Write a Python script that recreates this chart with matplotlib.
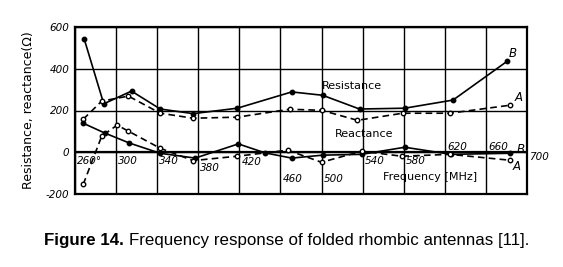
import matplotlib.pyplot as plt
import numpy as np

# data (frequency in MHz, ohms)
f_res_b = [269, 288, 315, 343, 375, 418, 471, 501, 537, 581, 628, 681]
res_b = [542, 232, 293, 207, 185, 211, 289, 273, 207, 211, 250, 437]
f_res_a = [268, 286, 312, 343, 375, 418, 469, 500, 535, 579, 625, 683]
res_a = [158, 245, 269, 187, 163, 168, 206, 201, 153, 187, 187, 225]
f_x_b = [268, 289, 313, 343, 377, 419, 445, 471, 501, 539, 581, 626, 683]
x_b = [139, 92, 44, -5, -28, 40, -3, -28, -14, -10, 24, -10, -5]
f_x_a = [268, 286, 301, 312, 343, 375, 418, 467, 500, 539, 578, 625, 683]
x_a = [-154, 77, 130, 101, 19, -40, -19, 10, -48, 5, -19, -10, -38]

xgrid = np.arange(260, 701, 40)
ygrid = [-200, 0, 200, 400, 600]
xlabels = ['260°', '300', '340', '380', '420', '460', '500', '540', '580', '620', '660', '700']
xlab_y = [-43, -43, -43, -77, -48, -130, -130, -43, -43, 24, 24, -24]

fig = plt.figure(figsize=(5.63, 2.67), dpi=100)
ax = fig.add_axes([75/563, 1-194/267, 452/563, 167/267])
ax.set_xlim(260, 700)
ax.set_ylim(-200, 600)

for x in xgrid:
    ax.axvline(x, color='black', lw=1.0)
for y in ygrid:
    ax.axhline(y, color='black', lw=1.0)
ax.axhline(0, color='black', lw=1.6)
for s in ax.spines.values():
    s.set_linewidth(1.6)

ax.plot(f_res_b, res_b, '-', color='black', lw=1.2, marker='o', ms=3.2, mfc='black')
ax.plot(f_res_a, res_a, '--', color='black', lw=1.2, marker='o', ms=3.2, mfc='white', dashes=(4, 2.5))
ax.plot(f_x_b, x_b, '-', color='black', lw=1.2, marker='o', ms=3.2, mfc='black')
ax.plot(f_x_a, x_a, '--', color='black', lw=1.2, marker='o', ms=3.2, mfc='white', dashes=(4, 2.5))

ax.set_xticks([])
ax.set_yticks(ygrid)
ax.set_yticklabels([str(v) for v in ygrid], fontstyle='italic', fontsize=7.5)
ax.tick_params(axis='y', length=0, pad=4)

for x, lab, y in zip(xgrid, xlabels, xlab_y):
    ax.text(x + 2, y, lab, fontsize=7.5, fontstyle='italic', ha='left', va='center', clip_on=False)

ax.text(500, 317, 'Resistance', fontsize=8, va='center')
ax.text(513, 86, 'Reactance', fontsize=8, va='center')
ax.text(560, -120, 'Frequency [MHz]', fontsize=8, va='center')
ax.text(682, 475, 'B', fontsize=8.5, fontstyle='italic', va='center')
ax.text(688, 262, 'A', fontsize=8.5, fontstyle='italic', va='center')
ax.text(690, 12, 'B', fontsize=8.5, fontstyle='italic', va='center')
ax.text(686, -70, 'A', fontsize=8.5, fontstyle='italic', va='center')

ax.set_ylabel('Resistance, reactance(Ω)', fontsize=9, labelpad=8)

# caption: bold part, then the rest placed right after it
cap_y = 1 - 241/267
t1 = fig.text(44/563, cap_y, 'Figure 14. ', fontsize=12.2, fontweight='bold',
              family='Liberation Sans', va='center')
fig.canvas.draw()
bb = t1.get_window_extent(fig.canvas.get_renderer())
fig.text(bb.x1/fig.bbox.width, cap_y, 'Frequency response of folded rhombic antennas [11].',
         fontsize=12.2, family='Liberation Sans', va='center')

fig.savefig('out.png', dpi=100)
